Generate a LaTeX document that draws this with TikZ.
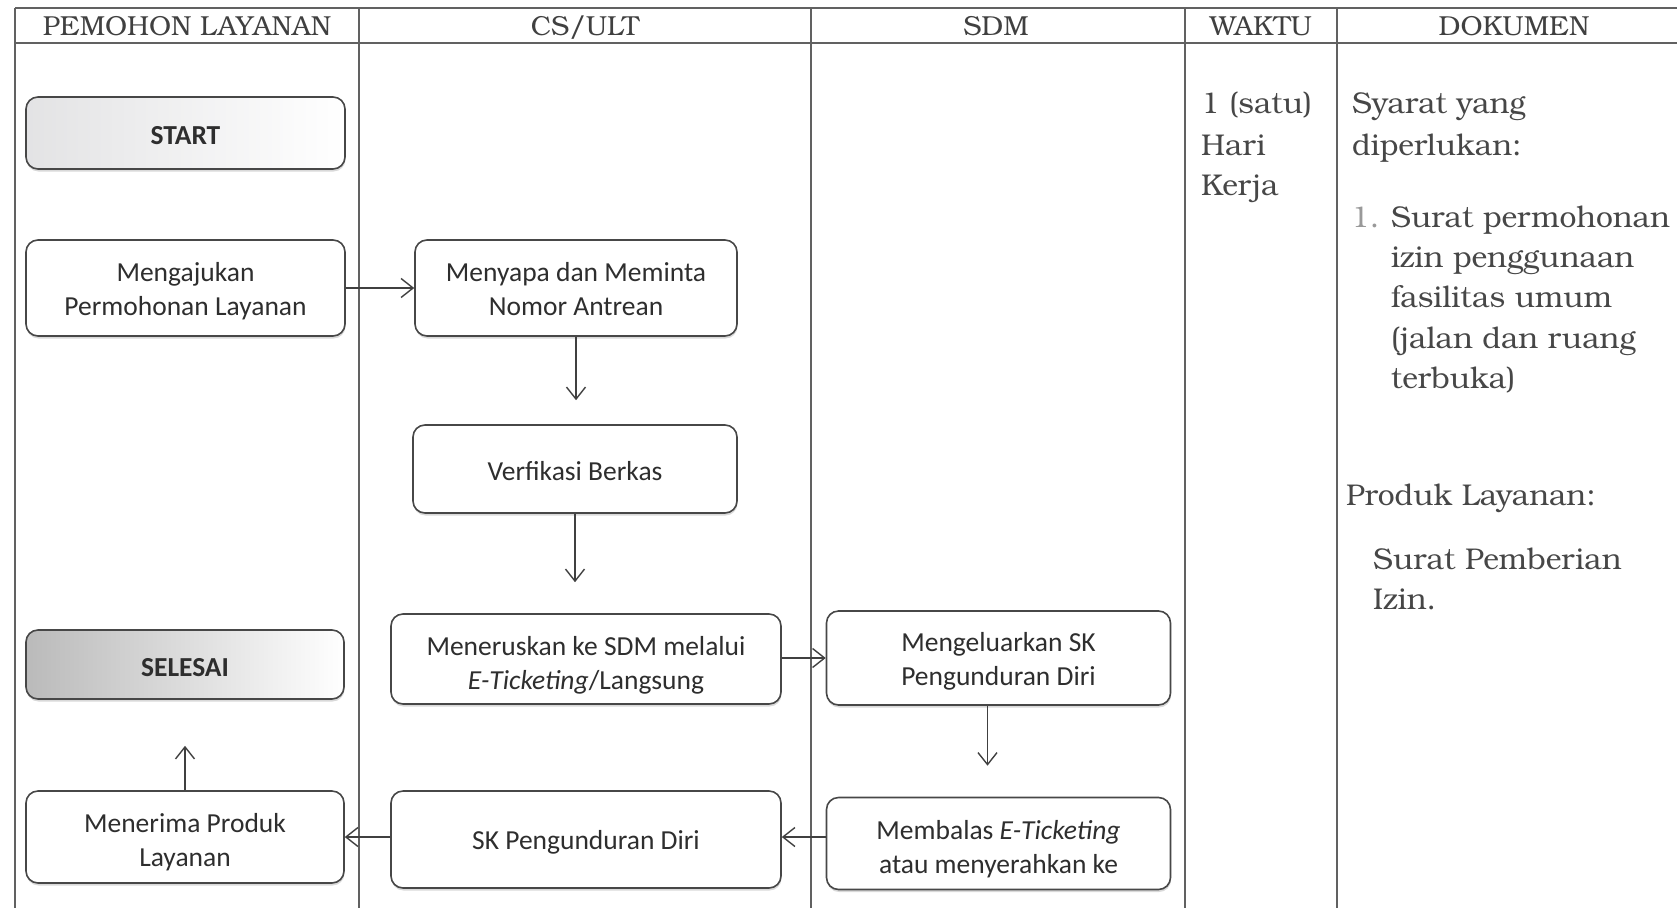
\documentclass[tikz,border=0pt]{standalone}
\usepackage{fontspec}
\setmainfont{Carlito}
\newfontfamily\tabfont{texgyrebonum-regular.otf}
\usetikzlibrary{arrows.meta,shadows}

% two centred lines inside a process box, set a little low as in a word-processor text frame
\newcommand\twolines[3][31pt]{\begin{tabular}{@{}c@{}}\rule{0pt}{#1}#2\\#3\end{tabular}}

\begin{document}
\begin{tikzpicture}[x=1pt,y=-1pt,
  box/.style={draw=black!72, line width=1.6, rounded corners=12, fill=white,
    align=center, text=black!82, font=\fontsize{27.5}{34}\selectfont, inner sep=0pt,
    execute at begin node={\rule{0pt}{24pt}},
    drop shadow={shadow xshift=0.5pt, shadow yshift=-2.5pt, opacity=0.3}},
  arr/.style={draw=black!75, line width=1.4, -{Straight Barb[length=12pt,width=19pt]}},
  grid/.style={draw=black!62, line width=1.8},
  head/.style={font=\tabfont\fontsize{27.5}{30}\selectfont, text=black!75, anchor=base, inner sep=0pt},
  cell/.style={font=\tabfont\fontsize{30}{40}\selectfont, text=black!72, anchor=base west, inner sep=0pt},
]
\useasboundingbox (0,0) rectangle (1677,908);

% table frame
\draw[grid] (15,8) -- (1677,8);
\draw[grid] (15,43) -- (1677,43);
\foreach \cx in {15,359,811,1185,1337}
  \draw[grid] (\cx,8) -- (\cx,908);

% column headings
\node[head] (h1) at (187,35) {PEMOHON LAYANAN};
\node[head] (h2) at (585,35) {CS/ULT};
\node[head] (h3) at (996,35) {SDM};
\node[head] (h4) at (1261,35) {WAKTU};
\node[head] (h5) at (1514,35) {DOKUMEN};

% time column
\node[cell] (w1) at (1201,113) {1 (satu)};
\node[cell] (w2) at (1201,155) {Hari};
\node[cell] (w3) at (1201,195) {Kerja};

% documents column
\node[cell] (d1) at (1352,113) {Syarat yang};
\node[cell] (d2) at (1352,155) {diperlukan:};
\node[cell, text=black!40] (d3n) at (1351,227) {1.};
\node[cell] (d3) at (1391,227) {Surat permohonan};
\node[cell] (d4) at (1391,267) {izin penggunaan};
\node[cell] (d5) at (1391,307) {fasilitas umum};
\node[cell] (d6) at (1391,348) {(jalan dan ruang};
\node[cell] (d7) at (1391,388) {terbuka)};
\node[cell] (p1) at (1346,505) {Produk Layanan:};
\node[cell] (p2) at (1373,569) {Surat Pemberian};
\node[cell] (p3) at (1373,609) {Izin.};

% process boxes
\node[box, minimum width=319, minimum height=72, font=\bfseries\fontsize{27.5}{34}\selectfont,
      left color=blue!5!black!11, middle color=white, right color=white] (start) at (185.5,133) {START};
\node[box, minimum width=319, minimum height=96] (ajukan) at (185.5,288) {\twolines{Mengajukan}{Permohonan Layanan}};
\node[box, minimum width=322, minimum height=96] (sapa) at (576,288) {\twolines{Menyapa dan Meminta}{Nomor Antrean}};
\node[box, minimum width=324, minimum height=88] (verif) at (575,469) {Verfikasi Berkas};
\node[box, minimum width=390, minimum height=90] (terus) at (586,659) {\twolines[37pt]{Meneruskan ke SDM melalui}{\textit{E-Ticketing}/Langsung}};
\node[box, minimum width=344, minimum height=94] (keluar) at (998.5,658) {\twolines{Mengeluarkan SK}{Pengunduran Diri}};
\node[box, minimum width=318, minimum height=69, font=\bfseries\fontsize{27.5}{34}\selectfont,
      left color=black!27, middle color=black!9, right color=white] (selesai) at (185,664.5) {SELESAI};
\node[box, minimum width=318, minimum height=92] (terima) at (185,837) {\twolines[35pt]{Menerima Produk}{Layanan}};
\node[box, minimum width=390, minimum height=97] (sk) at (586,839.5) {SK Pengunduran Diri};
\node[box, minimum width=344, minimum height=92] (balas) at (998.5,843.5) {\twolines[37pt]{Membalas \textit{E-Ticketing}}{atau menyerahkan ke}};

% flow
\draw[arr] (ajukan.east) -- (sapa.west);
\draw[arr, shorten >=24pt] (sapa.south) -- (sapa.south |- verif.north);
\draw[arr, shorten >=31pt] (verif.south) -- (verif.south |- terus.north);
\draw[arr] (terus.east |- keluar.west) -- (keluar.west);
\draw[arr, shorten >=31pt] ([xshift=-11pt]keluar.south) -- ([xshift=-11pt]keluar.south |- balas.north);
\draw[arr] (balas.west |- terima.east) -- (sk.east |- terima.east);
\draw[arr] (sk.west |- terima.east) -- (terima.east);
\draw[arr, shorten >=46pt] (terima.north) -- (selesai.south);
\end{tikzpicture}
\end{document}
